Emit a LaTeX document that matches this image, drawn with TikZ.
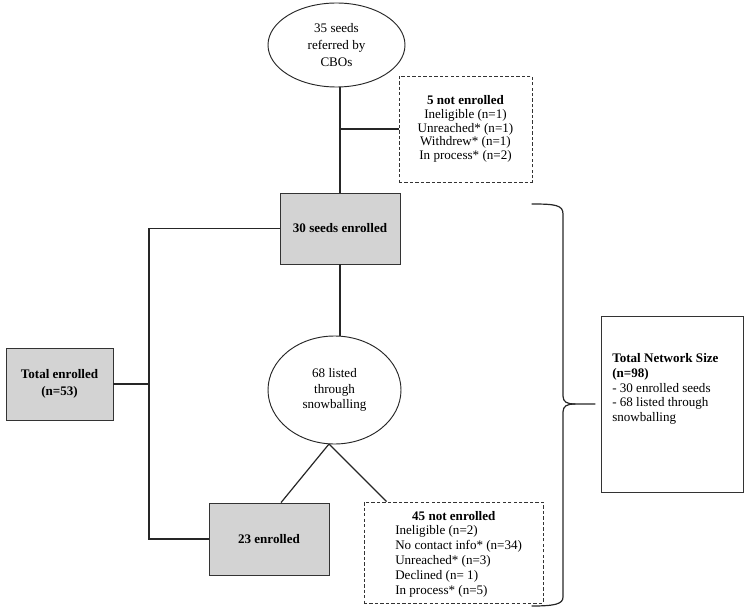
\documentclass[tikz,border=0pt]{standalone}
\usepackage{fontspec}
\setmainfont{Liberation Serif}
\usetikzlibrary{shapes.geometric,shadows}
\definecolor{boxgray}{RGB}{211,211,211}
\begin{document}
\begin{tikzpicture}[x=0.75pt,y=-0.75pt,
  conn/.style={line width=0.9pt, black!85},
  shadowed/.style={drop shadow={shadow xshift=1pt,shadow yshift=-1pt,fill=black,opacity=0.25}},
  graybox/.style={draw=black!80, line width=0.6pt, fill=boxgray, inner sep=0pt, align=center, shadowed},
  whitebox/.style={draw=black!80, line width=0.6pt, fill=white, inner sep=0pt, shadowed},
  dashbox/.style={draw=black!80, line width=0.6pt, dash pattern=on 2.5pt off 1.6pt, inner sep=0pt},
  oval/.style={ellipse, draw=black!85, line width=0.7pt, fill=white, inner sep=0pt, align=center},
  plain/.style={inner sep=0pt}
]
\useasboundingbox (0,0) rectangle (749,613);

% nodes
\node[oval, minimum width=102.75pt, minimum height=63pt, font=\fontsize{9.8}{12.75}\selectfont] (e1) at (336.5,45) {35 seeds\\referred by\\CBOs};

\node[dashbox, minimum width=99.75pt, minimum height=79.5pt, align=center, font=\fontsize{9.8}{10.3}\selectfont] (nb1) at (465.5,129) {\textbf{5 not enrolled}\\Ineligible (n=1)\\Unreached* (n=1)\\Withdrew* (n=1)\\In process* (n=2)};

\node[graybox, minimum width=90pt, minimum height=53.25pt, font=\fontsize{9.8}{12}\selectfont\bfseries] (b30) at (340,228.5) {30 seeds enrolled};

\node[graybox, minimum width=80.25pt, minimum height=54pt, font=\fontsize{9.8}{12.5}\selectfont\bfseries] (tot) at (59.5,384) {Total enrolled\\(n=53)};

\node[oval, minimum width=99.75pt, minimum height=81pt, font=\fontsize{9.8}{11.6}\selectfont] (e2) at (334.5,390) {68 listed\\through\\snowballing};

\node[graybox, minimum width=90pt, minimum height=54pt, font=\fontsize{9.8}{12}\selectfont\bfseries] (b23) at (269,539) {23 enrolled};

\node[dashbox, minimum width=134.25pt, minimum height=75.75pt] (nb2) at (453.5,552.5) {};
\node[plain, font=\fontsize{9.8}{12}\selectfont\bfseries] (nb2t) at (453.8,516) {45 not enrolled};
\node[plain, anchor=west, align=left, font=\fontsize{9.8}{11.25}\selectfont] (nb2l) at (395,561) {Ineligible (n=2)\\No contact info* (n=34)\\Unreached* (n=3)\\Declined (n= 1)\\In process* (n=5)};

\node[whitebox, minimum width=106.5pt, minimum height=132pt] (net) at (672,404) {};
\node[plain, anchor=west, align=left, font=\fontsize{9.8}{10.95}\selectfont] (nett) at (612,389) {\textbf{Total Network Size}\\\textbf{(n=98)}\\- 30 enrolled seeds\\- 68 listed through\\snowballing};

% connectors
\coordinate (jl) at (149,0);
\coordinate (ap) at (329,444);
\draw[conn] (b30.north) -- (b30.north |- e1.south);
\draw[conn] (b30.north |- nb1.west) -- (nb1.west);
\draw[conn] (b30.west) -| (jl |- b23.west) -- (b23.west);
\draw[conn] (tot.east) -- (tot.east -| jl);
\draw[conn] (b30.south) -- (b30.south |- e2.north);
\draw[conn] (ap) -- ([xshift=9pt]b23.north);
\draw[conn] (ap) -- ([xshift=17.25pt]nb2.north west);

% brace
\draw[conn, line cap=round] (532,204) .. controls (555,204) and (563,205) .. (563,214)
  -- (563,396) .. controls (563,402) and (567,404) .. (575,404) -- (595,404);
\draw[conn, line cap=round] (575,404) .. controls (567,404) and (563,406) .. (563,412)
  -- (563,597) .. controls (563,604) and (555,606) .. (532,606);
\end{tikzpicture}
\end{document}
